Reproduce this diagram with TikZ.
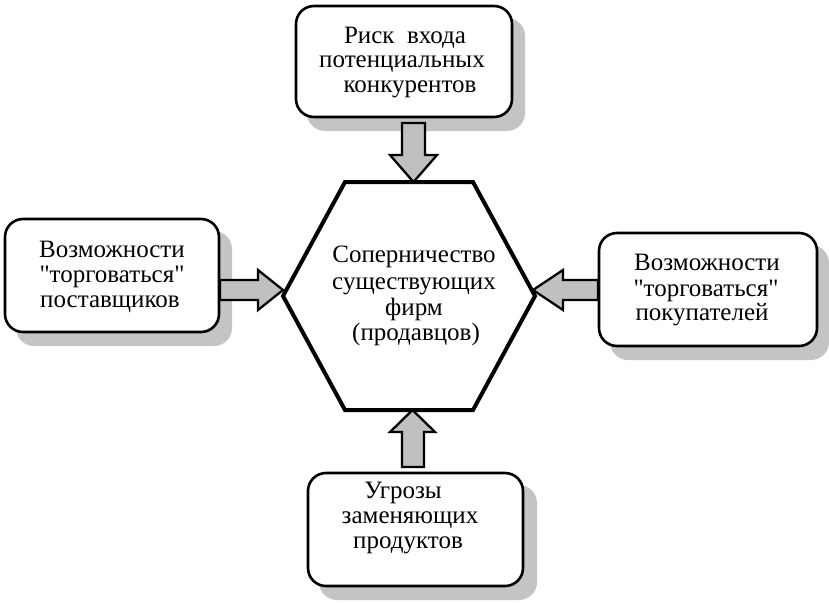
\documentclass[tikz,border=0pt]{standalone}
\usepackage{fontspec}
\setmainfont{Liberation Serif}[Ligatures=TeXOff]
\usetikzlibrary{calc}
\definecolor{shadowgray}{HTML}{C4C4C4}
\definecolor{arrowgray}{HTML}{C0C0C0}
\begin{document}
\begin{tikzpicture}[x=1pt,y=-1pt,
  boxshape/.style={draw=black, line width=2.6pt, fill=white, rounded corners=18pt, inner sep=0pt},
  boxshadow/.style={fill=shadowgray, rounded corners=18pt},
  txt/.style={font=\fontsize{25}{27}\selectfont, inner sep=0pt, anchor=base},
  blockarrow/.style={draw=black, line width=2.3pt, fill=arrowgray, line join=miter},
  hexline/.style={draw=black, line width=4pt, line join=miter, fill=white}]
\useasboundingbox (0,0) rectangle (829,603);
% shadows
\fill[boxshadow] (307,18) rectangle (525,131);
\fill[boxshadow] (16,231) rectangle (232,346);
\fill[boxshadow] (610,245) rectangle (829,360);
\fill[boxshadow] (319,485) rectangle (537,600);
% boxes
\node[boxshape, minimum width=216pt, minimum height=111pt] (top) at (404,61.5) {};
\node[boxshape, minimum width=214pt, minimum height=113pt] (left) at (112,275.5) {};
\node[boxshape, minimum width=218pt, minimum height=113pt] (right) at (708,289.5) {};
\node[boxshape, minimum width=215pt, minimum height=113pt] (bottom) at (415.5,529.5) {};
% hexagon
\coordinate (hc) at (409,296);
\draw[hexline] (345,182) coordinate (h1) -- (473,182) coordinate (h2) -- (535,296) coordinate (h3)
  -- (473,410) coordinate (h4) -- (345,410) coordinate (h5) -- (283,296) coordinate (h6) -- cycle;
% arrows
\draw[blockarrow] (402,123) coordinate (a1s) -- (425,123) -- (425,155) -- (437,155)
  -- (413.5,182) coordinate (a1t) -- (390,155) -- (402,155) -- cycle;
\draw[blockarrow] (402,467) coordinate (a2s) -- (424,467) -- (424,432) -- (435,432)
  -- (412.5,410) coordinate (a2t) -- (390,432) -- (402,432) -- cycle;
\draw[blockarrow] (220,300) coordinate (a3s) -- (258,300) -- (258,310)
  -- (283,290) coordinate (a3t) -- (258,270) -- (258,280) -- (220,280) -- cycle;
\draw[blockarrow] (598,300) coordinate (a4s) -- (563,300) -- (563,310)
  -- (533,290) coordinate (a4t) -- (563,270) -- (563,280) -- (598,280) -- cycle;
% texts
\node[txt] (tt1) at (405,43) {Риск\ \ входа};
\node[txt] (tt2) at (402,67) {потенциальных};
\node[txt] (tt3) at (410,92) {конкурентов};
\node[txt] (lt1) at (112,257) {Возможности};
\node[txt] (lt2) at (112,282) {"торговаться"};
\node[txt] (lt3) at (110,307) {поставщиков};
\node[txt] (rt1) at (707,270) {Возможности};
\node[txt] (rt2) at (706,296) {"торговаться"};
\node[txt] (rt3) at (702,320) {покупателей};
\node[txt] (bt1) at (403,498) {Угрозы};
\node[txt] (bt2) at (410,523) {заменяющих};
\node[txt] (bt3) at (408,548) {продуктов};
\node[txt] (ht1) at (414,262) {Соперничество};
\node[txt] (ht2) at (414,289) {существующих};
\node[txt] (ht3) at (414,315) {фирм};
\node[txt] (ht4) at (416,340) {(продавцов)};
\end{tikzpicture}
\end{document}
